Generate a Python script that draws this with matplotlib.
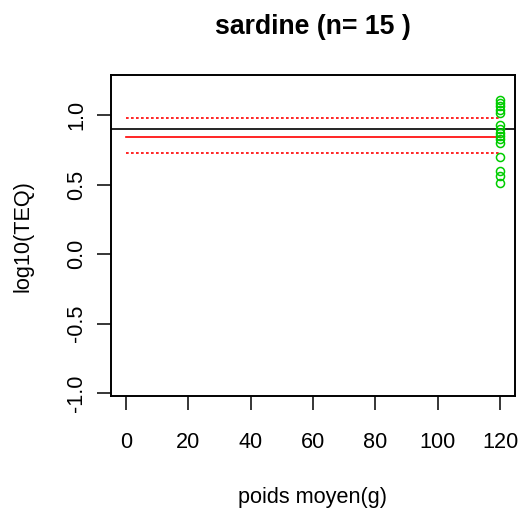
import matplotlib
matplotlib.use('Agg')
import matplotlib.pyplot as plt

plt.rcParams['font.family'] = ['Liberation Sans', 'DejaVu Sans']

# poids moyen (g) et log10(TEQ) des sardines
poids = [120] * 15
log_teq = [1.108, 1.086, 1.065, 1.036, 1.017,
           0.930, 0.899, 0.871, 0.849, 0.824, 0.801,
           0.700, 0.595, 0.561, 0.513]

ref_line = 0.899          # ligne noire (abline)
fit_x = [0, 120]
fit_mid = [0.840, 0.840]
fit_up = [0.976, 0.976]
fit_low = [0.724, 0.724]

xticks = [0, 20, 40, 60, 80, 100, 120]
yticks = [-1.0, -0.5, 0.0, 0.5, 1.0]

fig = plt.figure(figsize=(5.2, 5.13), dpi=100)
ax = fig.add_axes([111 / 520, 117 / 513, 404 / 520, 321 / 513])

ax.axhline(ref_line, color='black', lw=1.2)
ax.plot(fit_x, fit_mid, color='red', lw=1.2)
ax.plot(fit_x, fit_up, color='red', lw=1.2, linestyle=(0, (1.6, 1.4)))
ax.plot(fit_x, fit_low, color='red', lw=1.2, linestyle=(0, (1.6, 1.4)))
ax.plot(poids, log_teq, 'o', mfc='none', mec='#00CD00', ms=5.8, mew=1.1)

ax.set_xlim(-4.8, 124.8)
ax.set_ylim(-1.0216, 1.288)
ax.set_xticks(xticks)
ax.set_xticklabels([str(t) for t in xticks])
ax.set_yticks(yticks)
ax.set_yticklabels(['-1.0', '-0.5', '0.0', '0.5', '1.0'], rotation=90, va='center')

for s in ax.spines.values():
    s.set_linewidth(1.4)
ax.tick_params(axis='both', length=10, width=1.1, labelsize=15.6)
ax.tick_params(axis='x', pad=16)
ax.tick_params(axis='y', pad=7)

fig.text(313 / 520, 1 - 27 / 513, 'sardine (n= 15 )', ha='center', va='center',
         fontsize=19.2, fontweight='bold')
fig.text(313 / 520, 1 - 498 / 513, 'poids moyen(g)', ha='center', va='center', fontsize=15.6)
fig.text(23 / 520, 1 - 236 / 513, 'log10(TEQ)', ha='center', va='center',
         rotation=90, fontsize=15.6)

fig.savefig('out.png', dpi=100)
